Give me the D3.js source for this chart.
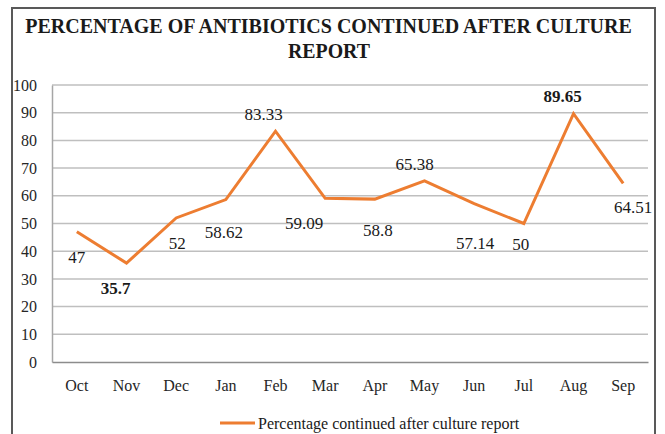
<!DOCTYPE html>
<html><head><meta charset="utf-8">
<script src="https://cdn.jsdelivr.net/npm/d3@7"></script>
<style>body{margin:0;background:#fff}svg{display:block}svg text{font-family:"Liberation Serif","Times New Roman",serif}</style>
</head><body>
<svg id="c" width="665" height="434"></svg>
<script>
const months = ["Oct","Nov","Dec","Jan","Feb","Mar","Apr","May","Jun","Jul","Aug","Sep"];
const values = [47,35.7,52,58.62,83.33,59.09,58.8,65.38,57.14,50,89.65,64.51];
const valueLabels = ["47","35.7","52","58.62","83.33","59.09","58.8","65.38","57.14","50","89.65","64.51"];
const boldLabels = [false,true,false,false,false,false,false,false,false,false,true,false];
const labelOffsets = [[0,31],[-11,31],[1,31],[-2,38],[-12,-11],[-21,31],[3,37],[-10,-11],[1,45],[-3,26],[-11,-12],[10,30]];
const yTicks = [0,10,20,30,40,50,60,70,80,90,100];
const titleLines = ["PERCENTAGE OF ANTIBIOTICS CONTINUED AFTER CULTURE","REPORT"];
const legendLabel = "Percentage continued after culture report";

const svg = d3.select("#c");
const orange = "#ED7D31";

// outer border
svg.append("rect").attr("x",12).attr("y",8).attr("width",643).attr("height",440)
  .attr("fill","none").attr("stroke","#595959").attr("stroke-width",2);

// title, horizontally condensed to the reference width
function fitText(str, cxPos, baseY, width, size) {
  const g = svg.append("g");
  const t = g.append("text").attr("x",0).attr("y",0).attr("text-anchor","middle")
    .attr("font-weight","bold").attr("font-size",size).attr("fill","#1a1a1a").text(str);
  const w = t.node().getComputedTextLength();
  g.attr("transform",`translate(${cxPos},${baseY}) scale(${width/w},1)`);
}
fitText(titleLines[0], 328.5, 33, 607, 22);
fitText(titleLines[1], 329, 58, 82, 22);

const x = d3.scaleBand().domain(months).range([52,648]);
const y = d3.scaleLinear().domain([0,100]).range([362,85]);

// gridlines
svg.append("g").selectAll("line").data(yTicks.filter(d=>d>0)).join("line")
  .attr("x1",52).attr("x2",648).attr("y1",d=>y(d)).attr("y2",d=>y(d))
  .attr("stroke","#bfbfbf").attr("stroke-width",1.5);

// y axis
const yAxis = svg.append("g").attr("transform","translate(52,0)")
  .call(d3.axisLeft(y).tickValues(yTicks).tickSize(0).tickPadding(15));
yAxis.select(".domain").attr("stroke","#a6a6a6").attr("stroke-width",1.5);
yAxis.selectAll("text").attr("font-size",16).attr("fill","#262626");

// x axis
const xAxis = svg.append("g").attr("transform","translate(0,362)")
  .call(d3.axisBottom(x).tickSize(0).tickPadding(18));
xAxis.select(".domain").attr("stroke","#8c8c8c").attr("stroke-width",1.5);
xAxis.selectAll("text").attr("font-size",16).attr("fill","#262626");
svg.selectAll("g").attr("font-family",null);

// line
const cx = m => x(m) + x.bandwidth()/2;
const pts = months.map((m,i)=>[cx(m), y(values[i])]);
svg.append("path").datum(pts).attr("d", d3.line())
  .attr("fill","none").attr("stroke",orange).attr("stroke-width",3).attr("stroke-linejoin","miter");

// data labels
svg.append("g").selectAll("text").data(months).join("text")
  .attr("x",(m,i)=>cx(m)+labelOffsets[i][0])
  .attr("y",(m,i)=>y(values[i])+labelOffsets[i][1])
  .attr("text-anchor","middle").attr("font-size",17)
  .attr("font-weight",(m,i)=>boldLabels[i]?"bold":"normal")
  .attr("fill","#1a1a1a").text((m,i)=>valueLabels[i]);

// legend
svg.append("line").attr("x1",220).attr("x2",255).attr("y1",423).attr("y2",423)
  .attr("stroke",orange).attr("stroke-width",3);
svg.append("text").attr("x",258).attr("y",429).attr("font-size",16)
  .attr("fill","#1a1a1a").text(legendLabel);
</script>
</body></html>
